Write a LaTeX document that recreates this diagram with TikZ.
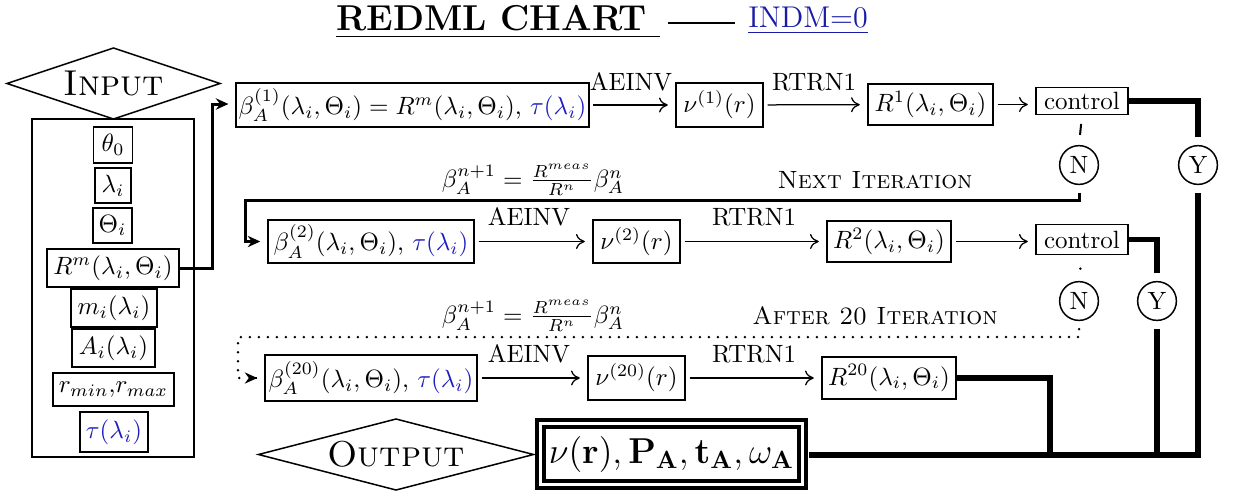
\documentclass[tikz,border=0pt]{standalone}
\usepackage{amsmath,amssymb}
\usetikzlibrary{shapes.geometric,arrows.meta,calc}
\definecolor{mblue}{RGB}{30,30,190}
\definecolor{lnk}{RGB}{25,25,170}
\begin{document}
\begin{tikzpicture}[x=0.4pt,y=-0.4pt,
 bx/.style={draw, line width=0.6pt, inner sep=1pt},
 sz/.style 2 args={minimum width=#1*0.4pt, minimum height=#2*0.4pt},
 lbl/.style={inner sep=0pt},
 arr/.style={-{Computer Modern Rightarrow[length=3.5pt,width=6pt]}, line width=0.5pt, shorten <=1.5pt, shorten >=3pt},
 thk/.style={line width=1.2pt, line join=miter},
 ultra/.style={line width=2.2pt, line join=miter},
 circ/.style={draw, circle, line width=0.6pt, minimum size=15.5pt, inner sep=0pt},
 diaedge/.style={draw, line width=0.6pt, fill=white, line join=miter},
 dots/.style={line width=1.1pt, line cap=round, dash pattern=on 0pt off 3.6pt},
 tip/.style={-{Stealth[length=5pt,width=4.5pt]}}
]
\useasboundingbox (0,0) rectangle (1237,495);
% title
\node[lbl] (title) at (498,22) {\Large\bfseries\underline{REDML CHART\hspace{5pt}}};
\coordinate (d1) at (668,23);
\coordinate (d2) at (735,23);
\draw[line width=0.6pt] (d1) -- (d2);
\node[lbl] (indm) at (808,21) {\large\color{lnk}\underline{INDM=0}};
% input
\node[bx, sz={162}{338}] (inbox) at (113,288) {};
\coordinate (ic) at (113.5,83.5);
\path[diaedge] ($(ic)+(-106.5,0)$) -- ($(ic)+(0,-35.5)$) -- ($(ic)+(106.5,0)$) -- ($(ic)+(0,35.5)$) -- cycle;
\node[lbl] (input) at (ic) {\Large\textsc{Input}};
\node[bx, sz={39}{36}] (th0) at (113,145) {$\theta_0$};
\node[bx, sz={36}{35}] (lam) at (113,185.5) {$\lambda_i$};
\node[bx, sz={39}{35}] (Th) at (112.5,225.5) {$\Theta_i$};
\node[bx, sz={132}{38}] (Rm) at (113,268) {$R^m(\lambda_i,\Theta_i)$};
\node[bx, sz={86}{38}] (mi) at (114,308) {$m_i(\lambda_i)$};
\node[bx, sz={83}{38}] (Ai) at (113.5,348) {$A_i(\lambda_i)$};
\node[bx, sz={121}{33}] (rr) at (113.5,389.5) {$r_{min}$,$r_{max}$};
\node[bx, sz={68}{40}] (tau) at (114,432) {$\color{mblue}\tau(\lambda_i)$};
% row 1
\node[bx, sz={351}{44}] (b1) at (412.5,105) {$\beta_A^{(1)}(\lambda_i,\Theta_i) = R^m(\lambda_i,\Theta_i)$, $\color{mblue}\tau(\lambda_i)$};
\node[bx, sz={87}{44}] (n1) at (719.5,105) {$\nu^{(1)}(r)$};
\node[bx, sz={125}{41}] (R1) at (930.5,104.5) {$R^1(\lambda_i,\Theta_i)$};
\node[bx, sz={92}{27}] (c1) at (1082,101) {control};
\node[lbl] (l1a) at (631,82) {AEINV};
\node[lbl] (l1b) at (814,82) {RTRN1};
\draw[arr] (b1) -- (n1);
\draw[arr] (n1) -- (R1);
\draw[arr] (R1.east) -- (R1.east -| c1.west);
\node[circ] (N1) at (1079,165) {N};
\node[circ] (Y1) at (1198,165) {Y};
% row 2
\node[bx, sz={206}{43}] (b2) at (371,241.5) {$\beta_A^{(2)}(\lambda_i,\Theta_i)$, $\color{mblue}\tau(\lambda_i)$};
\node[bx, sz={87}{43}] (n2) at (636.5,241.5) {$\nu^{(2)}(r)$};
\node[bx, sz={124}{41}] (R2) at (889,241.5) {$R^2(\lambda_i,\Theta_i)$};
\node[bx, sz={92}{30}] (c2) at (1082,239.5) {control};
\node[lbl] (l2a) at (529,217) {AEINV};
\node[lbl] (l2b) at (754,217) {RTRN1};
\draw[arr] (b2) -- (n2);
\draw[arr] (n2) -- (R2);
\draw[arr] (R2.east) -- (R2.east -| c2.west);
\node[circ] (N2) at (1079,301) {N};
\node[circ] (Y2) at (1157,301) {Y};
% row 3
\node[bx, sz={212}{46}] (b3) at (371,378) {$\beta_A^{(20)}(\lambda_i,\Theta_i)$, $\color{mblue}\tau(\lambda_i)$};
\node[bx, sz={97}{44}] (n3) at (636.5,378) {$\nu^{(20)}(r)$};
\node[bx, sz={134}{42}] (R20) at (889,378) {$R^{20}(\lambda_i,\Theta_i)$};
\node[lbl] (l3a) at (529,354) {AEINV};
\node[lbl] (l3b) at (754,354) {RTRN1};
\draw[arr] (b3) -- (n3);
\draw[arr] (n3) -- (R20);
% iteration labels
\node[lbl] (f1) at (533,180) {$\beta_A^{n+1} = \frac{R^{meas}}{R^n}\beta_A^n$};
\node[lbl] (t1) at (875,180) {\textsc{Next Iteration}};
\node[lbl] (f2) at (533,316) {$\beta_A^{n+1} = \frac{R^{meas}}{R^n}\beta_A^n$};
\node[lbl] (t2) at (875,316) {\textsc{After 20 Iteration}};
% output
\coordinate (oc) at (396,454.5);
\path[diaedge] ($(oc)+(-137.5,0)$) -- ($(oc)+(0,-35.5)$) -- ($(oc)+(137.5,0)$) -- ($(oc)+(0,35.5)$) -- cycle;
\node[lbl] (output) at (oc) {\Large\textsc{Output}};
\node[draw, double, double distance=1.2pt, line width=1.5pt, sz={262}{61}, inner sep=1pt] (out) at (671.5,454)
  {\Large$\nu(\mathbf{r}), \mathbf{P_A}, \mathbf{t_A}, \omega_{\mathbf{A}}$};
% connectors
\coordinate (a1) at (212,268);
\coordinate (a2) at (212,104);
\draw[thk, tip, shorten >=2.8pt] (Rm.east) -- (a1) -- (a2) -- (a2 -| b1.west);
\draw[ultra, shorten >=3pt] (c1.east) -| (Y1.north);
\coordinate (j1) at (1050,455);
\coordinate (j2) at (1157,455);
\coordinate (j3) at (1198,455);
\draw[ultra, shorten <=2pt, shorten >=3pt] (out.east |- j3) -- (j3) -- (Y1.south);
\draw[ultra, shorten >=3pt] (c2.east) -| (Y2.north);
\draw[ultra, shorten <=3pt] (Y2.south) -- (j2);
\draw[ultra] (R20.east) -| (j1);
\draw[line width=0.8pt, shorten <=3.5pt, shorten >=4pt] (c1.south) -- (N1.north);
\coordinate (k1) at (1079,200);
\coordinate (k2) at (245,200);
\draw[thk, tip, shorten <=3pt, shorten >=2.8pt] (N1.south) -- (k1) -- (k2) |- (b2.west);
\draw[dots, shorten <=5.4pt, shorten >=4.6pt] (c2.south) -- (N2.north);
\coordinate (m1) at (1079,337);
\coordinate (m2) at (238,337);
\draw[dots] (N2.south) ++(0,8) -- (m1) -- (m2) |- ($(b3.west)+(-20,0)$);
\draw[tip, line width=0.6pt, shorten <=8pt, shorten >=2.8pt] ($(b3.west)+(-27,0)$) -- (b3.west);
\end{tikzpicture}
\end{document}
